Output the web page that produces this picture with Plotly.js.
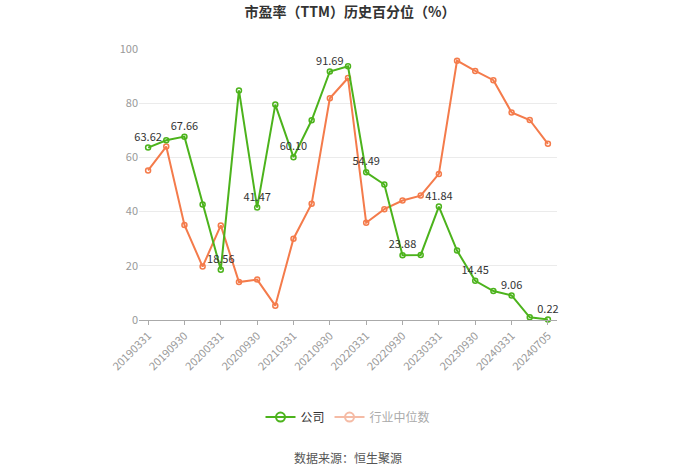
<!DOCTYPE html>
<html>
<head>
<meta charset="utf-8">
<script src="https://cdn.plot.ly/plotly-3.0.1.min.js"></script>
<style>
  html, body { margin: 0; padding: 0; background: #fff; }
  #chart { width: 700px; height: 474px; }
</style>
</head>
<body>
<div id="chart"></div>
<script>
var dates = ["20190331","20190630","20190930","20191231","20200331","20200630","20200930","20201231",
  "20210331","20210630","20210930","20211231","20220331","20220630","20220930","20221231",
  "20230331","20230630","20230930","20231231","20240331","20240630","20240705"];
var company = [63.62, 66.3, 67.66, 42.6, 18.56, 84.7, 41.47, 79.5, 60.10, 73.7, 91.69, 93.6,
  54.49, 50.0, 23.88, 24.0, 41.84, 25.6, 14.45, 10.7, 9.06, 1.0, 0.22];
var industry = [55.2, 64.0, 35.1, 19.7, 34.9, 14.0, 14.9, 5.3, 30.0, 42.9, 81.8, 89.3,
  35.9, 40.9, 44.1, 45.9, 53.9, 95.7, 91.9, 88.5, 76.6, 73.8, 65.0];
var tickDates = dates.filter(function (d, i) { return i % 2 === 0; });

var GREEN = "#4cb31c", ORANGE = "#f47b4b";
var FONT = "Noto Sans CJK SC, Noto Sans, sans-serif";

// labels only on every other company point
var labels = company.map(function (v, i) { return i % 2 === 0 ? v.toFixed(2) : ""; });

var traces = [
  { x: dates, y: industry, mode: "lines+markers", name: "行业中位数", showlegend: false,
    line: { color: ORANGE, width: 2 },
    marker: { symbol: "circle-open", size: 5, color: ORANGE, line: { width: 1.5 } } },
  { x: dates, y: company, mode: "lines+markers+text", name: "公司", showlegend: false, cliponaxis: false,
    text: labels, textposition: "top center", textfont: { size: 11, color: "#333", family: FONT },
    line: { color: GREEN, width: 2 },
    marker: { symbol: "circle-open", size: 5, color: GREEN, line: { width: 1.5 } } },
  // legend-only entries
  { x: [null], y: [null], mode: "lines+markers", name: "公司",
    line: { color: GREEN, width: 2 },
    marker: { symbol: "circle-open", size: 9, color: GREEN, line: { width: 2 } } },
  { x: [null], y: [null], mode: "lines+markers", name: '<span style="color:#aaa">行业中位数</span>',
    line: { color: "#f5bba5", width: 2 },
    marker: { symbol: "circle-open", size: 9, color: "#f5bba5", line: { width: 2 } } }
];

var layout = {
  width: 700, height: 474,
  margin: { t: 49, r: 143, b: 154, l: 139 },
  paper_bgcolor: "#fff", plot_bgcolor: "#fff",
  font: { family: FONT, color: "#999", size: 11 },
  title: { text: "<b>市盈率（TTM）历史百分位（%）</b>", font: { size: 14, color: "#333", family: FONT },
    x: 0.5, xanchor: "center", y: 0.975, yanchor: "middle", yref: "container" },
  xaxis: { type: "category", range: [-0.5, 22.5], tickmode: "array", tickvals: tickDates, ticktext: tickDates,
    tickangle: -45, ticks: "outside", ticklen: 4, tickcolor: "#aaa",
    showline: true, linecolor: "#aaa", linewidth: 1, showgrid: false, zeroline: false,
    tickfont: { size: 11, color: "#999" } },
  yaxis: { range: [0, 100], tickvals: [0, 20, 40, 60, 80, 100], showgrid: true, gridcolor: "#ebebeb",
    zeroline: false, showline: false, ticks: "", tickfont: { size: 11, color: "#999" } },
  showlegend: true,
  legend: { orientation: "h", x: 0.5, xanchor: "center", y: -0.358, yanchor: "middle",
    font: { size: 12, color: "#333", family: FONT }, itemwidth: 30 },
  annotations: [
    { text: "数据来源：恒生聚源", xref: "paper", yref: "paper", x: 0.5, y: -0.509,
      xanchor: "center", yanchor: "middle", showarrow: false, font: { size: 12, color: "#555", family: FONT } }
  ]
};

Plotly.newPlot("chart", traces, layout, { displayModeBar: false, staticPlot: true });
</script>
</body>
</html>
